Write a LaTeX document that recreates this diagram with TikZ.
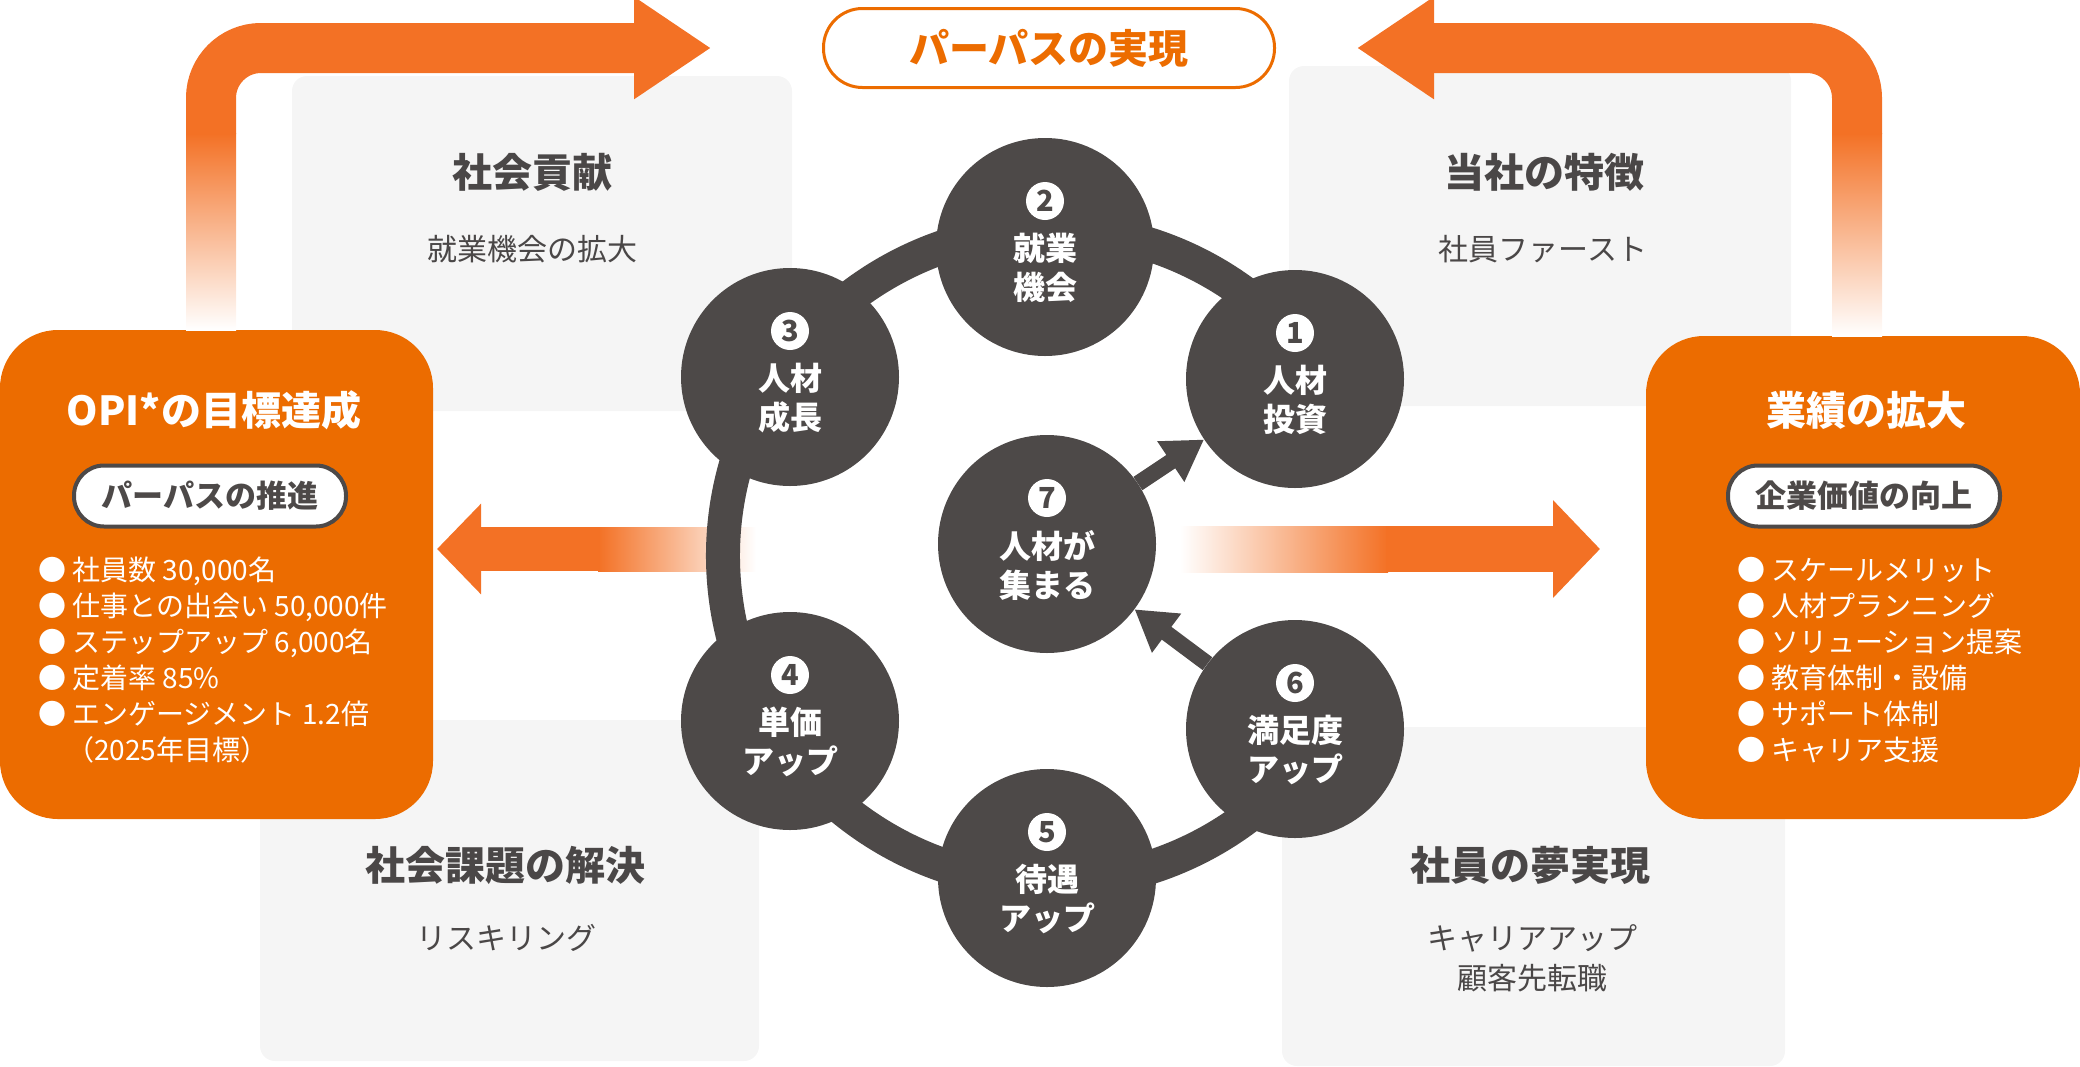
\documentclass[tikz,border=0pt]{standalone}
\usepackage{fontspec}
\setmainfont{Noto Sans CJK JP}
\usepackage{tikz}
\usetikzlibrary{arrows.meta}
\usetikzlibrary{calc}
\usetikzlibrary{positioning}

\definecolor{boxorange}{HTML}{EC6C00}
\definecolor{arroworange}{HTML}{F37125}
\definecolor{hubgray}{HTML}{4D4948}
\definecolor{panelgray}{HTML}{F5F5F5}
\definecolor{inkgray}{HTML}{4A4747}

\begin{document}
\begin{tikzpicture}[x=1pt,y=-1pt,
    panel/.style={fill=panelgray,rounded corners=15pt,inner sep=0pt},
    panelhead/.style={text=inkgray,font=\fontsize{40}{48}\selectfont\bfseries},
    paneltext/.style={text=inkgray,font=\fontsize{30}{40}\selectfont,align=center},
    goalbox/.style={fill=boxorange,rounded corners=58pt,inner sep=0pt},
    goalhead/.style={text=white,font=\fontsize{40}{48}\selectfont\bfseries},
    goalpill/.style={draw=hubgray,line width=4pt,fill=white,rounded corners=30pt,minimum width=272pt,minimum height=61pt,text=hubgray,font=\fontsize{31}{31}\selectfont\bfseries},
    goallist/.style={text=white,font=\fontsize{28}{36}\selectfont,align=left,anchor=west,inner sep=0pt},
    hub/.style={circle,fill=hubgray,minimum size=218pt,inner sep=0pt},
    hubtext/.style={text=white,font=\fontsize{32}{39}\selectfont\bfseries,align=center,inner sep=0pt},
    hubnum/.style={circle,fill=white,minimum size=38pt,inner sep=0pt,text=hubgray,font=\fontsize{29}{29}\selectfont\bfseries},
    bigarrow/.style={color=arroworange,line width=50pt},
    smallarrow/.style={color=hubgray,line width=16pt,-{Triangle[width=46pt,length=40pt,fill=hubgray]}}]

  \useasboundingbox (0,0) rectangle (2080,1066);

  \node [panel,minimum width=500pt,minimum height=335pt] (kouken) at (542,243.5) {};
  \node [panel,minimum width=502pt,minimum height=340pt] (tokuchou) at (1540,236) {};
  \node [panel,minimum width=499pt,minimum height=341pt] (kadai) at (509.5,890.5) {};
  \node [panel,minimum width=503pt,minimum height=339pt] (yume) at (1533.5,896.5) {};

  \node [panelhead] (koukenhead) at (532,172) {社会貢献};
  \node [paneltext] (koukentext) at (532,249) {就業機会の拡大};
  \node [panelhead] (tokuchouhead) at (1544,172) {当社の特徴};
  \node [paneltext] (tokuchoutext) at (1543,249) {社員ファースト};
  \node [panelhead] (kadaihead) at (505,865) {社会課題の解決};
  \node [paneltext] (kadaitext) at (506,938) {リスキリング};
  \node [panelhead] (yumehead) at (1530,865) {社員の夢実現};
  \node [paneltext] (yumetext) at (1532,958) {キャリアアップ\\顧客先転職};

  \node [goalbox,minimum width=433pt,minimum height=489pt] (opi) at (216.5,574.5) {};
  \node [goalbox,minimum width=434pt,minimum height=483pt] (gyoseki) at (1863,577.5) {};

  \node [goalhead] (opihead) at (214,410) {OPI*の目標達成};
  \node [goalpill] (opipill) at (210,496) {パーパスの推進};
  \node [goallist] (opilist) at (38,660) {● 社員数 30,000名\\● 仕事との出会い 50,000件\\● ステップアップ 6,000名\\● 定着率 85\%\\● エンゲージメント 1.2倍\\\phantom{●}（2025年目標）};

  \node [goalhead] (gyosekihead) at (1866,410) {業績の拡大};
  \node [goalpill] (gyosekipill) at (1864,496) {企業価値の向上};
  \node [goallist] (gyosekilist) at (1737,660) {● スケールメリット\\● 人材プランニング\\● ソリューション提案\\● 教育体制・設備\\● サポート体制\\● キャリア支援};

  \node [draw=boxorange,line width=3pt,fill=white,rounded corners=39pt,minimum width=451pt,minimum height=79pt,text=boxorange,font=\fontsize{40}{40}\selectfont\bfseries] (purpose) at (1049,48) {パーパスの実現};

  \coordinate (topL) at (711,48);
  \coordinate (topR) at (1357,48);
  \coordinate (midL) at (437,549);
  \coordinate (midR) at (1600,549);

  \shade [top color=arroworange,bottom color=white] (186,133) rectangle (236,330);
  \shade [top color=arroworange,bottom color=white] (1832,133) rectangle (1882,336);
  \draw [bigarrow,rounded corners=50pt,-{Triangle[width=97pt,length=77pt]}] (211,134) |- (topL);
  \draw [bigarrow,rounded corners=50pt,-{Triangle[width=97pt,length=77pt]}] (1857,134) |- (topR);

  \shade [left color=arroworange,right color=white] (598,527) rectangle (756,571);
  \draw [bigarrow,line width=44pt,-{Triangle[width=88pt,length=44pt]}] (600,549) -- (midL);
  \shade [left color=white,right color=arroworange] (1180,526) rectangle (1388,572);
  \draw [bigarrow,line width=46pt,-{Triangle[width=95pt,length=47pt]}] (1386,549) -- (midR);

  \coordinate (ring) at (1050,556);
  \draw [draw=hubgray,line width=34pt] (ring) ++(35:327) arc [start angle=35,end angle=325,radius=327];

  \foreach \n/\x/\y/\txt in {1/1295/379/{人材\\投資},2/1045/247/{就業\\機会},3/790/377/{人材\\成長},4/790/721/{単価\\アップ},5/1047/878/{待遇\\アップ},6/1295/729/{満足度\\アップ},7/1047/544/{人材が\\集まる}} {
    \node [hub] (n\n) at (\x,\y) {};
    \node [hubnum] (num\n) at (\x,\y-46) {\n};
    \node [hubtext] (txt\n) at (\x,\y+21) {\txt};
  }

  \path [smallarrow]
    (n7) edge (n1)
    (n6) edge (n7);

\end{tikzpicture}
\end{document}
